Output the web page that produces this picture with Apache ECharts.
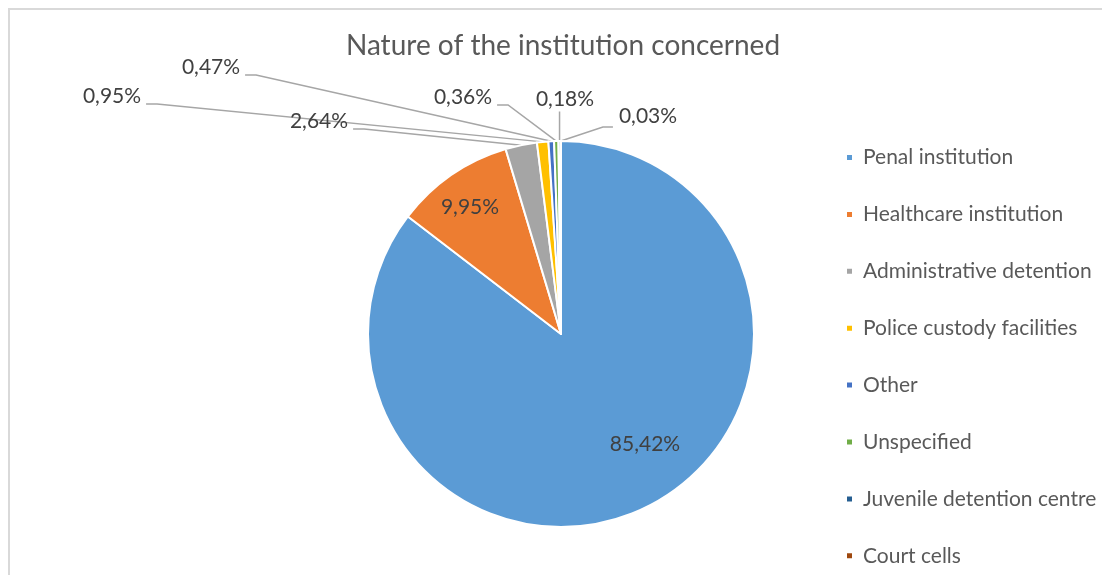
<!DOCTYPE html>
<html>
<head>
<meta charset="utf-8">
<script src="https://cdn.jsdelivr.net/npm/echarts@6/dist/echarts.min.js"></script>
<style>
  html, body { margin: 0; padding: 0; background: #fff; }
  #chart { width: 1102px; height: 575px; }
</style>
</head>
<body>
<div id="chart"></div>
<script>
// Institutions, in slice order (clockwise from 12 o'clock)
const categories = [
  'Penal institution',
  'Healthcare institution',
  'Administrative detention',
  'Police custody facilities',
  'Other',
  'Unspecified',
  'Juvenile detention centre',
  'Court cells'
];
// Share of cases, in percent
const shares = [85.42, 9.95, 2.64, 0.95, 0.47, 0.36, 0.18, 0.03];
const colors = ['#5B9BD5', '#ED7D31', '#A5A5A5', '#FFC000', '#4472C4', '#70AD47', '#255E91', '#9E480E'];

// Where each data label sits (text centre) and how its leader line leaves it
const LABEL_SPOTS = [
  { x: 645, y: 444, side: null },
  { x: 470, y: 207, side: null },
  { x: 319, y: 121, side: 'left' },
  { x: 112, y: 96, side: 'left' },
  { x: 211, y: 67, side: 'left' },
  { x: 463, y: 97, side: 'left' },
  { x: 565, y: 99, side: 'below' },
  { x: 648, y: 116, side: 'right' }
];

const FONT = 'Lato, "Open Sans", sans-serif';
const fmtPct = v => v.toFixed(2).replace('.', ',') + '%';

const chart = echarts.init(document.getElementById('chart'), null, { renderer: 'canvas' });

const pieData = categories.map((name, i) => {
  const inside = LABEL_SPOTS[i].side === null;
  return {
    name: name,
    value: shares[i],
    itemStyle: { color: colors[i] },
    label: { position: inside ? 'inside' : 'outside' },
    labelLine: { show: !inside }
  };
});

chart.setOption({
  backgroundColor: '#ffffff',
  animation: false,
  title: {
    text: 'Nature of the institution concerned',
    left: 558,
    textAlign: 'center',
    top: 27,
    textStyle: { fontFamily: FONT, fontSize: 28, fontWeight: 'normal', color: '#595959' }
  },
  legend: {
    orient: 'vertical',
    left: 845,
    top: 147,
    height: 428,
    padding: 0,
    icon: 'rect',
    itemWidth: 7,
    itemHeight: 7,
    itemGap: 35.9,
    selectedMode: false,
    data: categories,
    textStyle: { fontFamily: FONT, fontSize: 21, color: '#595959', lineHeight: 20, padding: [0, 0, 0, 5] }
  },
  graphic: [{
    type: 'rect',
    shape: { x: 9, y: 9, width: 1200, height: 700 },
    style: { fill: 'none', stroke: '#D9D9D9', lineWidth: 2 },
    silent: true,
    z: -1
  }],
  series: [{
    type: 'pie',
    center: [561, 334],
    radius: 193,
    startAngle: 90,
    clockwise: true,
    avoidLabelOverlap: false,
    minShowLabelAngle: 0,
    itemStyle: { borderColor: '#ffffff', borderWidth: 2 },
    label: {
      show: true,
      formatter: p => fmtPct(p.value),
      fontFamily: FONT,
      fontSize: 21,
      color: '#404040'
    },
    labelLine: {
      show: true,
      length: 10,
      length2: 10,
      lineStyle: { color: '#A6A6A6', width: 1.5 }
    },
    labelLayout: function (p) {
      const spot = LABEL_SPOTS[p.dataIndex];
      const out = { x: spot.x, y: spot.y, align: 'center', verticalAlign: 'middle' };
      if (spot.side && p.labelLinePoints) {
        const edge = p.labelLinePoints[0];
        const w = p.labelRect.width;
        const h = p.labelRect.height;
        if (spot.side === 'left') {
          const sx = spot.x + w / 2 + 5;
          const sy = spot.y + 8;
          out.labelLinePoints = [[sx, sy], [sx + 11, sy], [edge[0], edge[1]]];
        } else if (spot.side === 'right') {
          const sx = spot.x - w / 2 - 6;
          const sy = spot.y + 11;
          out.labelLinePoints = [[sx, sy], [sx - 10, sy], [edge[0], edge[1]]];
        } else {
          out.labelLinePoints = [[edge[0], spot.y + h / 2 + 2], [edge[0], edge[1]]];
        }
      }
      return out;
    },
    data: pieData
  }]
});
</script>
</body>
</html>
